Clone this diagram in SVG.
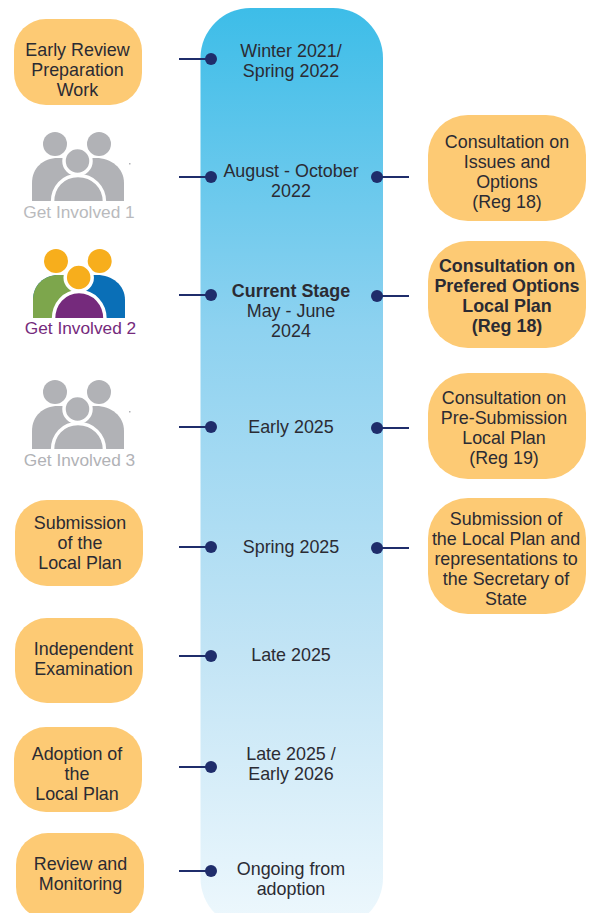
<svg xmlns="http://www.w3.org/2000/svg" width="594" height="913" viewBox="0 0 594 913">
<style>
text{font-family:"Liberation Sans",Arial,sans-serif;font-size:17.900px;fill:#2b2b33;text-anchor:middle}
.b{font-weight:700}
.box{fill:#fdca74}
.ln{stroke:#1f2d6b;stroke-width:2;fill:none}
.dot{fill:#1f2d6b}
.g{fill:#b1b2b6}
.ring{stroke:#fff;stroke-width:3.5}
.gi{font-size:17.300px}
</style>
<defs>
<linearGradient id="bar" x1="0" y1="0" x2="0" y2="1">
<stop offset="0" stop-color="#3dbde8"/>
<stop offset="0.35" stop-color="#8ed2f0"/>
<stop offset="0.7" stop-color="#c2e4f5"/>
<stop offset="1" stop-color="#eef8fd"/>
</linearGradient>
<g id="people">
<circle class="g" cx="55" cy="144" r="12"/>
<circle class="g" cx="99" cy="144" r="12"/>
<path class="g" d="M32 201V183C32 168 43 158 58 158H96C111 158 124 168 124 183V201Z"/>
<circle class="g ring" cx="77.500" cy="161" r="13.500"/>
<path class="g ring" d="M52.500 203V202C52.500 187 63 175.500 78 175.500C93 175.500 104.500 187 104.500 202V203Z"/>
<rect x="0" y="201" width="140" height="4" fill="#fff"/>
<rect class="g" x="129" y="163" width="1.500" height="1.500"/>
</g>
</defs>
<rect id="timeline" x="200.500" y="8" width="182.500" height="920" rx="50" ry="50" fill="url(#bar)"/>
<g id="connectors">
<path class="ln" d="M179 59H211M179 177H211M179 295H211M179 427H211M179 547H211M179 656H211M179 767H211M179 871H211M377 177H409M377 296H409M377 428H409M377 548H409"/>
<circle class="dot" cx="211" cy="59" r="6"/><circle class="dot" cx="211" cy="177" r="6"/><circle class="dot" cx="211" cy="295" r="6"/><circle class="dot" cx="211" cy="427" r="6"/><circle class="dot" cx="211" cy="547" r="6"/><circle class="dot" cx="211" cy="656" r="6"/><circle class="dot" cx="211" cy="767" r="6"/><circle class="dot" cx="211" cy="871" r="6"/>
<circle class="dot" cx="377" cy="177" r="6"/><circle class="dot" cx="377" cy="296" r="6"/><circle class="dot" cx="377" cy="428" r="6"/><circle class="dot" cx="377" cy="548" r="6"/>
</g>
<g id="n1"><rect class="box" x="14" y="19" width="128" height="86" rx="32"/><text x="77.500" y="56">Early Review</text><text x="77.500" y="76">Preparation</text><text x="77.500" y="96">Work</text></g>
<g id="n2"><use href="#people"/><text class="gi" x="79" y="218" style="fill:#b9babd">Get Involved 1</text></g>
<g id="n3">
<circle cx="56" cy="261" r="12" fill="#f7ae1c"/><circle cx="99.700" cy="261" r="12" fill="#f7ae1c"/>
<path d="M33 318V300C33 285 44 275 59 275H97C112 275 125 285 125 300V318Z" fill="#0a6fb7"/>
<path d="M33 318V300C33 285 44 275 59 275H78V318Z" fill="#7da64c"/>
<circle cx="78.700" cy="277.500" r="13.500" fill="#f7ae1c" stroke="#fff" stroke-width="3.500"/>
<path d="M53.500 320V319C53.500 304 64 291.500 79 291.500C94 291.500 105 304 105 319V320Z" fill="#752a7c" stroke="#fff" stroke-width="3.500"/>
<rect x="0" y="318" width="140" height="3" fill="#fff"/>
<text class="gi" x="80.500" y="334" style="fill:#752a7c">Get Involved 2</text></g>
<g id="n4"><use href="#people" y="248"/><text class="gi" x="79.500" y="466" style="fill:#b1b2b6">Get Involved 3</text></g>
<g id="n5"><rect class="box" x="15" y="500" width="128" height="86" rx="32"/><text x="80" y="529">Submission</text><text x="80" y="549">of the</text><text x="80" y="569">Local Plan</text></g>
<g id="n6"><rect class="box" x="15" y="618" width="128" height="85" rx="32"/><text x="83.500" y="655">Independent</text><text x="83.500" y="675">Examination</text></g>
<g id="n7"><rect class="box" x="14" y="727" width="128" height="85" rx="32"/><text x="77" y="760">Adoption of</text><text x="77" y="780">the</text><text x="77" y="800">Local Plan</text></g>
<g id="n8"><rect class="box" x="16" y="833" width="128" height="86" rx="32"/><text x="80.500" y="870">Review and</text><text x="80.500" y="890">Monitoring</text></g>
<g id="t1"><text x="291" y="57">Winter 2021/</text><text x="291" y="77">Spring 2022</text></g>
<g id="t2"><text x="291" y="177">August - October</text><text x="291" y="197">2022</text></g>
<g id="t3"><text class="b" x="291" y="297">Current Stage</text><text x="291" y="317">May - June</text><text x="291" y="337">2024</text></g>
<g id="t4"><text x="291" y="433">Early 2025</text></g>
<g id="t5"><text x="291" y="553">Spring 2025</text></g>
<g id="t6"><text x="291" y="661">Late 2025</text></g>
<g id="t7"><text x="291" y="760">Late 2025 /</text><text x="291" y="780">Early 2026</text></g>
<g id="t8"><text x="291" y="875">Ongoing from</text><text x="291" y="895">adoption</text></g>
<g id="r1"><rect class="box" x="428" y="115" width="158" height="106" rx="40"/><text x="507" y="148">Consultation on</text><text x="507" y="168">Issues and</text><text x="507" y="188">Options</text><text x="507" y="208">(Reg 18)</text></g>
<g id="r2"><rect class="box" x="428" y="241" width="158" height="107" rx="40"/><text class="b" x="507" y="272">Consultation on</text><text class="b" x="507" y="292">Prefered Options</text><text class="b" x="507" y="312">Local Plan</text><text class="b" x="507" y="332">(Reg 18)</text></g>
<g id="r3"><rect class="box" x="428" y="373" width="158" height="106" rx="40"/><text x="504" y="404">Consultation on</text><text x="504" y="424">Pre-Submission</text><text x="504" y="444">Local Plan</text><text x="504" y="464">(Reg 19)</text></g>
<g id="r4"><rect class="box" x="428" y="498" width="158" height="116" rx="40"/><text x="506" y="525">Submission of</text><text x="506" y="545">the Local Plan and</text><text x="506" y="565">representations to</text><text x="506" y="585">the Secretary of</text><text x="506" y="605">State</text></g>
</svg>
